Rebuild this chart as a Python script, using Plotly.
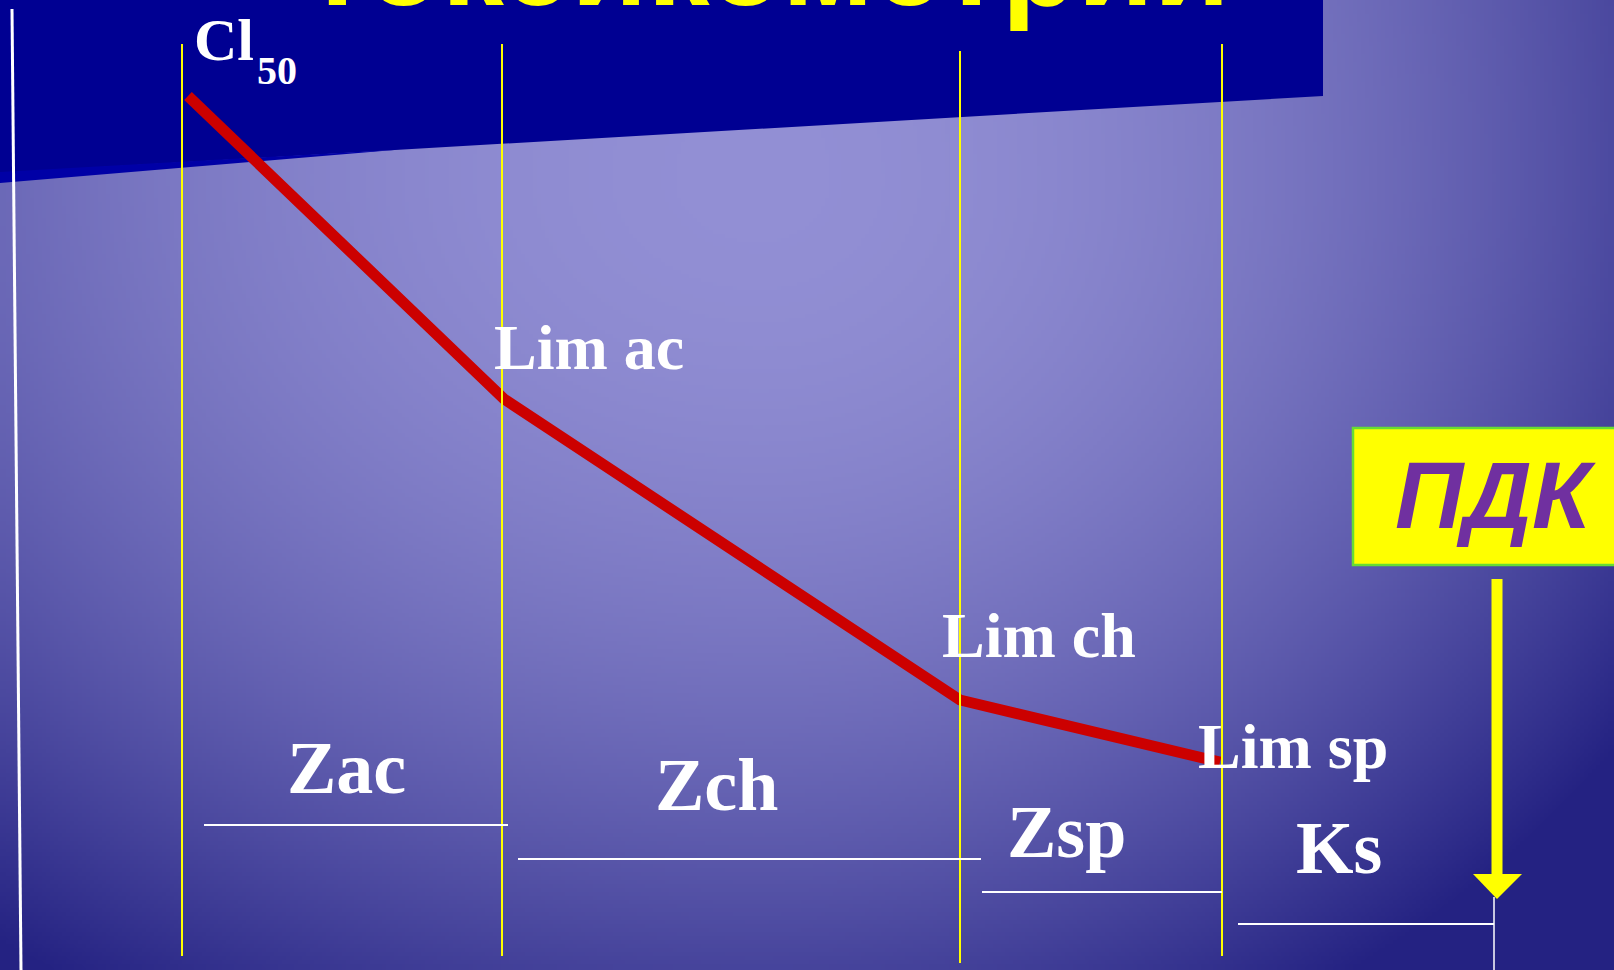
import base64
import struct
import zlib

import numpy as np
import plotly.graph_objects as go

W, H = 1614, 970

# ---------------- data (schematic, in slide units) ----------------
limit_labels = ["Cl50", "Lim ac", "Lim ch", "Lim sp"]
limit_x = [188, 504, 960, 1220]
limit_y = [96, 399, 700, 762]
zone_bounds = [182, 502, 960, 1222]
zone_labels = ["Zac", "Zch", "Zsp", "Ks"]
title_text = "токсикометрии"
pdk_text = "ПДК"


# ---------------- background gradient image ----------------
def gradient_png(w, h):
    ys, xs = np.mgrid[0:h, 0:w]
    X = (xs + 0.5) * W / w
    Y = (ys + 0.5) * H / h
    cx, cy = 760.0, 180.0
    dx = X - cx
    dy = Y - cy
    sx = np.where(dx < 0, 1280.0, 1071.0)
    sy = np.where(dy < 0, 1500.0, 950.0)
    f = np.clip((dx / sx) ** 2 + (dy / sy) ** 2, 0, 1)
    c0 = np.array([146, 143, 212], dtype=float)
    c1 = np.array([36, 34, 130], dtype=float)
    img = c0 + f[..., None] * (c1 - c0)
    img = np.clip(np.round(img), 0, 255).astype(np.uint8)
    raw = b"".join(b"\x00" + img[r].tobytes() for r in range(h))

    def chunk(t, d):
        c = struct.pack(">I", len(d)) + t + d
        return c + struct.pack(">I", zlib.crc32(t + d) & 0xFFFFFFFF)

    png = (b"\x89PNG\r\n\x1a\n"
           + chunk(b"IHDR", struct.pack(">IIBBBBB", w, h, 8, 2, 0, 0, 0))
           + chunk(b"IDAT", zlib.compress(raw, 9))
           + chunk(b"IEND", b""))
    return "data:image/png;base64," + base64.b64encode(png).decode()


fig = go.Figure()

# red toxicity curve
fig.add_trace(go.Scatter(
    x=limit_x, y=limit_y, mode="lines",
    line=dict(color="#cc0000", width=11),
    hoverinfo="skip", showlegend=False,
))

shapes = []
# dark title band
shapes.append(dict(type="path", path="M0,0 L1323,0 L1323,96 L0,173 Z",
                   fillcolor="#000092", line=dict(width=0), layer="below"))
shapes.append(dict(type="path", path="M0,172 L0,183 L400,149.5 Z",
                   fillcolor="#0000a6", line=dict(width=0), layer="below"))
# left white axis line
shapes.append(dict(type="line", x0=12, y0=9, x1=21, y1=H,
                   line=dict(color="white", width=3), layer="above"))
# yellow zone boundaries
tops = [44, 44, 51, 44]
bottoms = [956, 956, 963, 956]
for xb, t, b in zip(zone_bounds, tops, bottoms):
    shapes.append(dict(type="line", x0=xb, x1=xb, y0=t, y1=b,
                       line=dict(color="#ffff00", width=2), layer="above"))
# white zone underlines
under = [(204, 508, 825), (518, 981, 859), (982, 1222, 892), (1238, 1494, 924)]
for x0, x1, yy in under:
    shapes.append(dict(type="line", x0=x0, x1=x1, y0=yy, y1=yy,
                       line=dict(color="white", width=2), layer="above"))
shapes.append(dict(type="line", x0=1494, x1=1494, y0=897, y1=H,
                   line=dict(color="white", width=1.5), layer="above"))
# ПДК box
shapes.append(dict(type="rect", x0=1353, x1=1625, y0=428, y1=565,
                   fillcolor="#ffff00", line=dict(color="#66dd33", width=2.5),
                   layer="above"))
# yellow arrow
shapes.append(dict(type="line", x0=1497, x1=1497, y0=579, y1=876,
                   line=dict(color="#ffff00", width=11), layer="above"))
shapes.append(dict(type="path", path="M1473,874 L1522,874 L1497,899 Z",
                   fillcolor="#ffff00", line=dict(width=0), layer="above"))

SERIF = "Liberation Serif, 'Times New Roman', serif"
SANS = "Liberation Sans, Arial, sans-serif"


def label(text, x, y, size, xanchor="left", color="white", family=SERIF,
          style="normal", xref="x", yref="y"):
    fig.add_annotation(text=text, x=x, y=y, xref=xref, yref=yref,
                       xanchor=xanchor, yanchor="middle", showarrow=False,
                       font=dict(family=family, size=size, color=color,
                                 weight="bold", style=style))


# title (cut off at top of the slide)
label(title_text, 768, 1 + 38 / H, 124, xanchor="center", color="#ffff00",
      family=SANS, yref="paper")

# limit labels
label("Cl", 192, 40, 60)
label("50", 255, 70, 40)
label(limit_labels[1], 492, 347, 64)
label(limit_labels[2], 940, 635, 64)
label(limit_labels[3], 1196, 746, 64)

# zone labels
zone_pos = [(285, 768), (653, 785), (1005, 832), (1294, 848)]
for txt, (zx, zy) in zip(zone_labels, zone_pos):
    label(txt, zx, zy, 74)

# ПДК
label(pdk_text, 1495, 495, 95, xanchor="center", color="#7030a0",
      family=SANS, style="italic")

fig.update_layout(
    width=W, height=H,
    margin=dict(l=0, r=0, t=0, b=0),
    paper_bgcolor="#2a2a88",
    plot_bgcolor="rgba(0,0,0,0)",
    xaxis=dict(range=[0, W], visible=False, fixedrange=True),
    yaxis=dict(range=[H, 0], visible=False, fixedrange=True),
    shapes=shapes,
    images=[dict(source=gradient_png(404, 243), xref="paper", yref="paper",
                 x=0, y=1, sizex=1, sizey=1, sizing="stretch",
                 xanchor="left", yanchor="top", layer="below")],
    showlegend=False,
)

fig.write_html(
    "out.html",
    config={"displayModeBar": False, "staticPlot": True},
    post_script="document.body.style.margin='0';"
                "document.body.style.overflow='hidden';",
)
